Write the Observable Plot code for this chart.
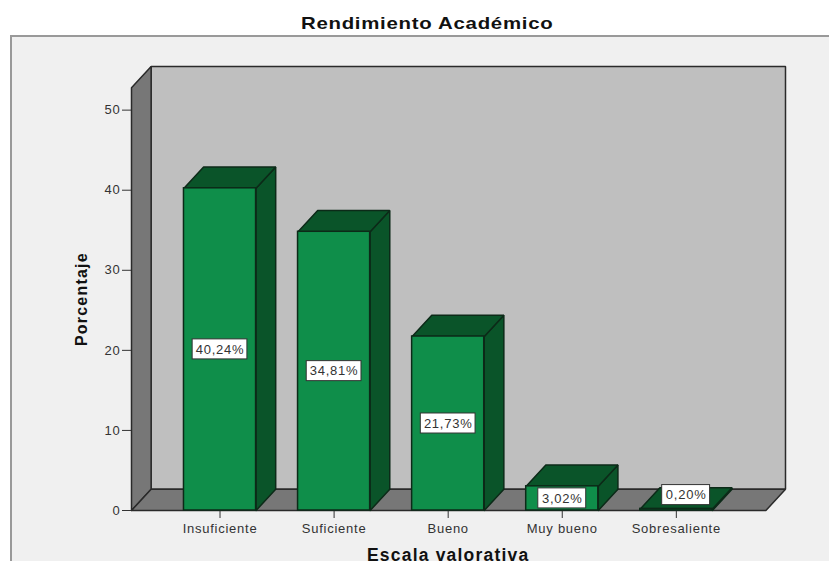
<!DOCTYPE html>
<html>
<head>
<meta charset="utf-8">
<script src="https://cdn.jsdelivr.net/npm/d3@7"></script>
<script src="https://cdn.jsdelivr.net/npm/@observablehq/plot@0.6"></script>
<style>
  html, body { margin: 0; padding: 0; width: 829px; height: 561px; overflow: hidden; background: #fff; }
  #title { height: 35px; box-sizing: border-box; padding: 13px 0 0 0; text-align: center; width: 854px;
    font: bold 17px "Liberation Sans", sans-serif; letter-spacing: .6px; line-height: 22px; color: #111; }
  #title span { display: inline-block; transform: scaleX(1.2); }
  #wrap { position: relative; width: 829px; height: 526px; }
  #frame { position: absolute; left: 10px; top: 0; width: 819px; height: 526px; box-sizing: border-box;
    background: #f0f0f0; border-top: 2px solid #999; border-left: 2px solid #999; }
  #chart { position: absolute; left: 0; top: 0; }
  .bold-label text { font-weight: bold; letter-spacing: 1.2px; }
</style>
</head>
<body>
<div id="title"><span>Rendimiento Académico</span></div>
<div id="wrap"><div id="frame"></div><div id="chart"></div></div>
<script>
const categories = ["Insuficiente", "Suficiente", "Bueno", "Muy bueno", "Sobresaliente"];
const percentages = [40.24, 34.81, 21.73, 3.02, 0.20];
const percentLabels = ["40,24%", "34,81%", "21,73%", "3,02%", "0,20%"];
const yTicks = [0, 10, 20, 30, 40, 50];

// Depth of the pseudo-3D box, in data units of each scale
const depthX = 0.172, depthY = 2.65;
const halfBar = 0.316;
const xMin = -0.776, xFront = 4.785;
const yFront = 52.8;

const quad = (id, pts) => [...pts, pts[0]].map(([x, y]) => ({id, x, y}));
const rows = categories.map((name, i) => ({name, i, v: percentages[i], label: percentLabels[i]}));

const backWall = quad("back", [[xMin + depthX, depthY], [xFront + depthX, depthY], [xFront + depthX, yFront + depthY], [xMin + depthX, yFront + depthY]]);
const leftWall = quad("left", [[xMin, 0], [xMin + depthX, depthY], [xMin + depthX, yFront + depthY], [xMin, yFront]]);
const floor = quad("floor", [[xMin, 0], [xFront, 0], [xFront + depthX, depthY], [xMin + depthX, depthY]]);
const sides = rows.flatMap(d => quad(d.name, [[d.i + halfBar, 0], [d.i + halfBar + depthX, depthY], [d.i + halfBar + depthX, d.v + depthY], [d.i + halfBar, d.v]]));
const tops = rows.flatMap(d => quad(d.name, [[d.i - halfBar, d.v], [d.i + halfBar, d.v], [d.i + halfBar + depthX, d.v + depthY], [d.i - halfBar + depthX, d.v + depthY]]));

// Labels sit mid-bar; the bar too thin to hold one sits on its top face
const labelPos = d => d.v < 1
  ? {cx: d.i + depthX / 2, cy: d.v + depthY / 2 + 0.4}
  : {cx: d.i, cy: d.v / 2};
const boxes = rows.map(d => {
  const {cx, cy} = labelPos(d);
  const half = d.label.length > 5 ? 0.24 : 0.21;
  return {...d, cx, cy, x1: cx - half, x2: cx + half, y1: cy - 1.25, y2: cy + 1.25};
});

const wallStroke = {stroke: "#2a2a2a", strokeWidth: 1.5, strokeLinejoin: "miter"};
const barStroke = {stroke: "#0c2a18", strokeWidth: 1.5, strokeLinejoin: "miter"};

const chart = Plot.plot({
  width: 829, height: 526,
  marginLeft: 131, marginRight: 44, marginTop: 31, marginBottom: 51,
  style: {background: "transparent", overflow: "visible", fontFamily: "Liberation Sans, sans-serif", fontSize: "13px", letterSpacing: ".75px", color: "#333"},
  x: {domain: [xMin, xFront + depthX], label: null},
  y: {domain: [0, yFront + depthY], label: null},
  marks: [
    Plot.line(backWall, {x: "x", y: "y", z: "id", fill: "#bfbfbf", ...wallStroke}),
    Plot.line(leftWall, {x: "x", y: "y", z: "id", fill: "#777777", ...wallStroke}),
    Plot.line(floor, {x: "x", y: "y", z: "id", fill: "#777777", ...wallStroke}),
    Plot.axisY({ticks: yTicks, tickSize: 9, tickPadding: 2, fontSize: 13, stroke: "#333", label: null}),
    Plot.axisX({ticks: [0, 1, 2, 3, 4], tickFormat: i => categories[i], tickSize: 8, tickPadding: 5, fontSize: 13, stroke: "#333", label: null}),
    ...rows.flatMap(d => [
      Plot.line(sides.filter(p => p.id === d.name), {x: "x", y: "y", z: "id", fill: "#0a5429", ...barStroke}),
      Plot.line(tops.filter(p => p.id === d.name), {x: "x", y: "y", z: "id", fill: "#0a5429", ...barStroke}),
      Plot.rect([d], {x1: p => p.i - halfBar, x2: p => p.i + halfBar, y1: 0, y2: "v", fill: "#0f8e4a", ...barStroke})
    ]),
    Plot.rect(boxes, {x1: "x1", x2: "x2", y1: "y1", y2: "y2", fill: "#ffffff", stroke: "#333", strokeWidth: 1}),
    Plot.text(boxes, {x: "cx", y: "cy", text: "label", fontSize: 13, fill: "#333"}),
    Plot.text(["Porcentaje"], {x: xMin, y: yFront / 2, text: d => d, rotate: -90, dx: -50, fontSize: 16, fontWeight: "bold", fill: "#111", className: "bold-label"}),
    Plot.text(["Escala valorativa"], {x: 2, y: 0, text: d => d, dy: 44.5, fontSize: 17.5, fontWeight: "bold", fill: "#111", className: "bold-label"})
  ]
});
document.getElementById("chart").append(chart);
</script>
</body>
</html>
